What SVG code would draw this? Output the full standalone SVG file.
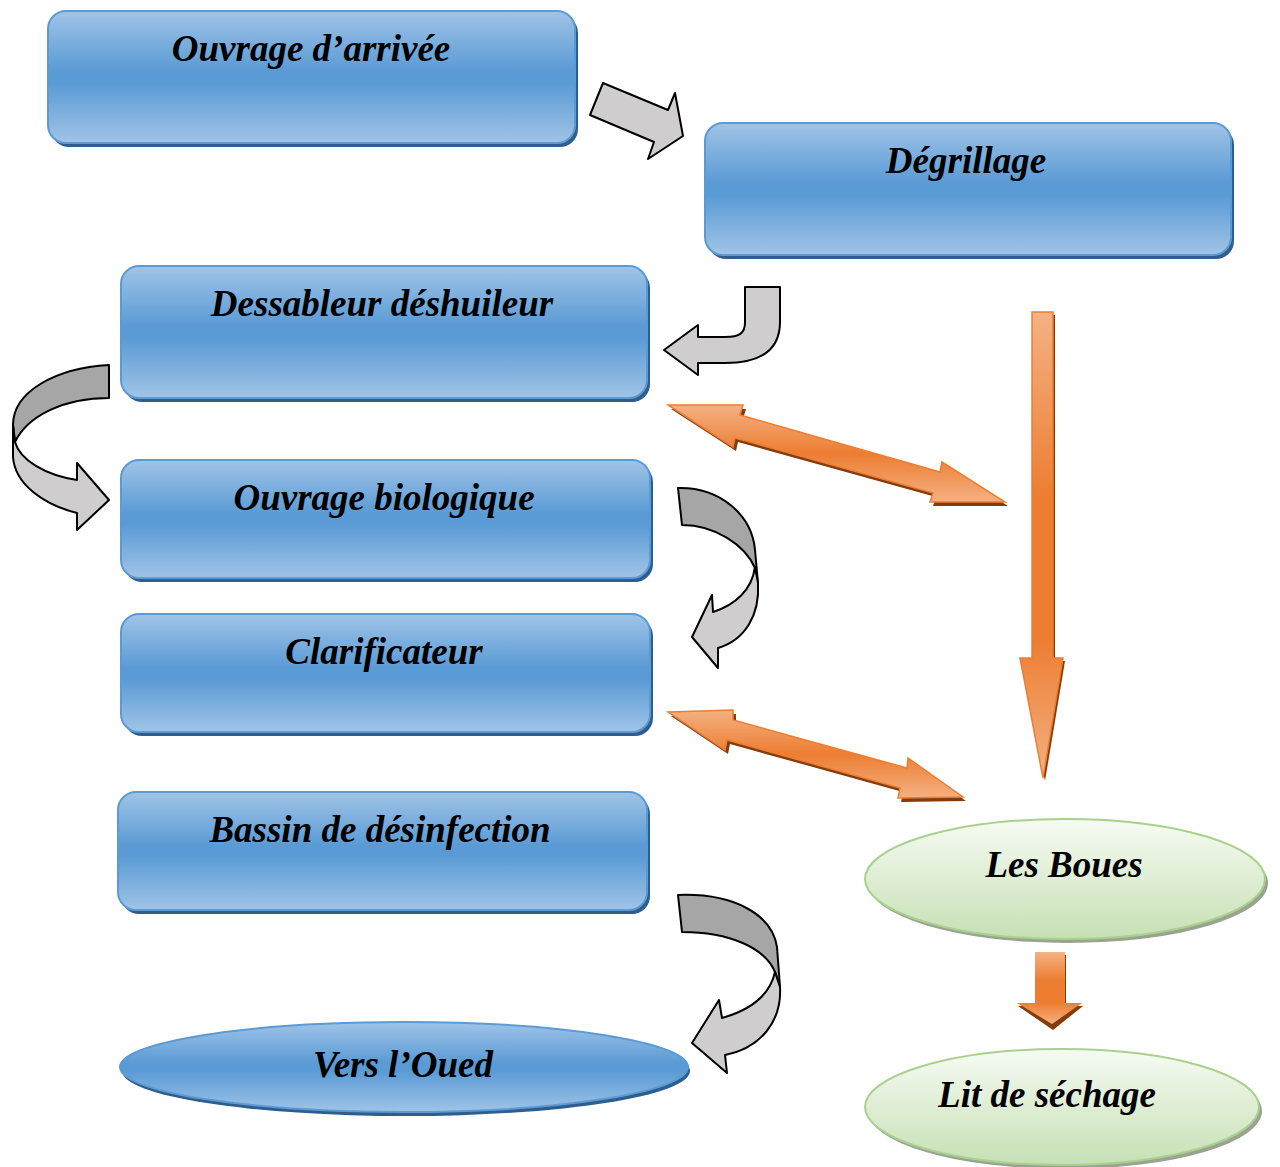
<svg xmlns="http://www.w3.org/2000/svg" width="1280" height="1167" viewBox="0 0 1280 1167">
<defs>
<linearGradient id="gBlue" x1="0" y1="0" x2="0" y2="1">
<stop offset="0" stop-color="#a0c4e7"/>
<stop offset="0.45" stop-color="#5b9bd5"/>
<stop offset="0.55" stop-color="#5b9bd5"/>
<stop offset="1" stop-color="#a0c4e7"/>
</linearGradient>
<linearGradient id="gGreen" x1="0" y1="0" x2="0" y2="1">
<stop offset="0" stop-color="#f7fbf3"/>
<stop offset="1" stop-color="#c6e0b4"/>
</linearGradient>
<linearGradient id="gOrV" x1="0" y1="0" x2="0" y2="1">
<stop offset="0" stop-color="#f4b183"/>
<stop offset="0.4" stop-color="#ed7d31"/>
<stop offset="0.7" stop-color="#ed7d31"/>
<stop offset="1" stop-color="#f4b183"/>
</linearGradient>
<linearGradient id="gOrD" x1="0" y1="0" x2="0" y2="1">
<stop offset="0" stop-color="#f4b183"/>
<stop offset="0.5" stop-color="#ed7d31"/>
<stop offset="1" stop-color="#f4b183"/>
</linearGradient>
<style>
.box{fill:url(#gBlue);stroke:#5b9bd5;stroke-width:2}
.bsh{fill:#2f5d8c}
.gsh{fill:#9aa38f}
.ell{fill:url(#gGreen);stroke:#a9d18e;stroke-width:2}
.lbl{font-family:"Liberation Serif","Times New Roman",serif;font-weight:bold;font-style:italic;font-size:37px;fill:#000;text-anchor:middle}
.ga{fill:#cfcdce;stroke:#000;stroke-width:2;stroke-linejoin:round}
.gd{fill:#a6a6a6;stroke:#000;stroke-width:2;stroke-linejoin:round}
.oa{stroke:#ed7d31;stroke-width:1.5;stroke-linejoin:miter}
.osh{fill:#843c0c}
</style>
</defs>
<rect width="1280" height="1167" fill="#fff"/>

<g id="node-ouvrage-arrivee">
<rect class="bsh" x="51" y="15" width="527" height="132" rx="18"/>
<rect class="box" x="48" y="11" width="527" height="132" rx="18"/>
<text class="lbl" x="311" y="61">Ouvrage d’arrivée</text>
</g>
<g id="node-degrillage">
<rect class="bsh" x="708" y="127" width="526" height="132" rx="18"/>
<rect class="box" x="705" y="123" width="526" height="132" rx="18"/>
<text class="lbl" x="966" y="173">Dégrillage</text>
</g>
<g id="node-dessableur">
<rect class="bsh" x="124" y="270" width="526" height="132" rx="18"/>
<rect class="box" x="121" y="266" width="526" height="132" rx="18"/>
<text class="lbl" x="382" y="316">Dessableur déshuileur</text>
</g>
<g id="node-biologique">
<rect class="bsh" x="124" y="464" width="529" height="118" rx="18"/>
<rect class="box" x="121" y="460" width="529" height="118" rx="18"/>
<text class="lbl" x="384" y="510">Ouvrage biologique</text>
</g>
<g id="node-clarificateur">
<rect class="bsh" x="124" y="618" width="529" height="118" rx="18"/>
<rect class="box" x="121" y="614" width="529" height="118" rx="18"/>
<text class="lbl" x="384" y="664">Clarificateur</text>
</g>
<g id="node-bassin">
<rect class="bsh" x="121" y="796" width="529" height="118" rx="18"/>
<rect class="box" x="118" y="792" width="529" height="118" rx="18"/>
<text class="lbl" x="380" y="842">Bassin de désinfection</text>
</g>
<g id="node-oued">
<ellipse class="bsh" cx="406" cy="1071" rx="284" ry="45"/>
<ellipse class="box" cx="404" cy="1067" rx="284" ry="45"/>
<text class="lbl" x="403" y="1077">Vers l’Oued</text>
</g>
<g id="node-boues">
<ellipse class="gsh" cx="1068" cy="883" rx="200" ry="60"/>
<ellipse class="ell" cx="1065" cy="879" rx="200" ry="60"/>
<text class="lbl" x="1064" y="877">Les Boues</text>
</g>
<g id="node-lit">
<ellipse class="gsh" cx="1065" cy="1111" rx="197" ry="58"/>
<ellipse class="ell" cx="1062" cy="1107" rx="197" ry="58"/>
<text class="lbl" x="1047" y="1107">Lit de séchage</text>
</g>

<g id="connectors">
<!-- grey block arrow: arrivée -> dégrillage -->
<polygon class="ga" points="603,83 668,110 675,93 683,136 648,159 654,142 590,115"/>
<!-- bent arrow: dégrillage -> dessableur -->
<path class="ga" d="M745,287 L780,287 L780,322 C780,350 760,363 725,363 L698,363 L698,375 L664,350 L698,325 L698,337 L725,337 C740,337 745,333 745,322 Z"/>
<!-- curved arrow: dessableur -> biologique -->
<path class="gd" d="M109,365 C55,368 13,392 13,425 L15,442 C28,415 65,398 109,398 Z"/>
<path class="ga" d="M13,425 L13,457 C15,485 45,505 77,513 L77,530 L109,500 L77,463 L77,480 C45,475 20,460 15,442 Z"/>
<!-- curved arrow: biologique -> clarificateur -->
<path class="gd" d="M678,488 C720,487 752,515 755,550 L758,583 L755,568 C745,545 715,525 682,525 Z"/>
<path class="ga" d="M758,583 C760,615 745,640 718,648 L718,668 L692,637 L712,595 L713,612 C735,605 752,590 755,567 Z"/>
<!-- curved arrow: bassin -> oued -->
<path class="gd" d="M678,895 C735,893 772,915 777,947 L780,987 L775,972 C765,948 730,932 682,932 Z"/>
<path class="ga" d="M780,987 C782,1022 760,1048 725,1055 L727,1073 L692,1043 L719,1000 L722,1018 C750,1010 770,995 775,972 Z"/>

<!-- orange double arrow: dessableur <-> boues -->
<polygon class="osh" transform="translate(3,4)" points="668,405 743,405 740,415 940,472 942,462 1005,502 930,502 933,493 735,438 733,447"/>
<polygon class="oa" fill="url(#gOrD)" points="668,405 743,405 740,415 940,472 942,462 1005,502 930,502 933,493 735,438 733,447"/>
<!-- orange double arrow: clarificateur <-> boues -->
<polygon class="osh" transform="translate(3,4)" points="668,712 733,710 733,720 907,768 908,758 963,797 898,798 900,788 727,740 725,750"/>
<polygon class="oa" fill="url(#gOrD)" points="668,712 733,710 733,720 907,768 908,758 963,797 898,798 900,788 727,740 725,750"/>
<!-- orange vertical arrow: dégrillage -> boues -->
<polygon class="osh" transform="translate(2,3)" points="1032,312 1053,312 1053,658 1063,658 1043,778 1020,658 1032,658"/>
<polygon class="oa" fill="url(#gOrV)" points="1032,312 1053,312 1053,658 1063,658 1043,778 1020,658 1032,658"/>
<!-- small orange arrow: boues -> lit -->
<polygon class="osh" transform="translate(1,3)" points="1035,952 1065,952 1065,1003 1082,1003 1052,1027 1017,1003 1035,1003"/>
<polygon fill="url(#gOrV)" points="1035,952 1065,952 1065,1003 1082,1003 1052,1024 1017,1003 1035,1003"/>
</g>
</svg>
